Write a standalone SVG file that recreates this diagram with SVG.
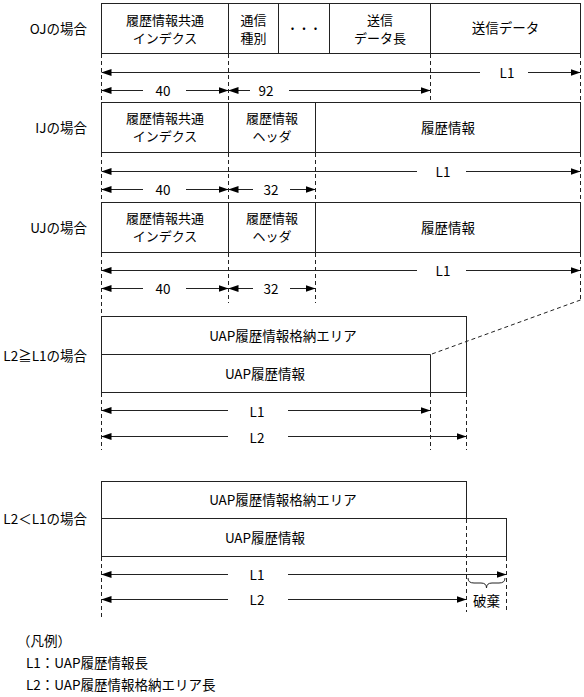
<svg xmlns="http://www.w3.org/2000/svg" width="584" height="697" viewBox="0 0 584 697">
<style>
text{font-family:"Noto Sans CJK JP","Noto Sans",sans-serif;font-size:13.5px;fill:#000;}
.c{text-anchor:middle;dominant-baseline:central;}
.r{text-anchor:end;dominant-baseline:central;}
.l{text-anchor:start;dominant-baseline:central;}
.t2{font-size:13px;}
.box{fill:#fff;stroke:#222;stroke-width:1;}
.ln{stroke:#222;stroke-width:1;fill:none;}
.d{stroke:#222;stroke-width:1;stroke-dasharray:4 3;fill:none;}
.a{stroke:#222;stroke-width:1;fill:none;}
</style>
<defs>
<marker id="ah" viewBox="0 0 10 7" refX="10" refY="3.5" markerWidth="10" markerHeight="7" markerUnits="userSpaceOnUse" orient="auto-start-reverse">
<path d="M0,0 L10,3.5 L0,7 Z" fill="#000"/>
</marker>
</defs>

<!-- left labels -->
<g id="labels">
<text class="r" x="87" y="28">OJの場合</text>
<text class="r" x="87" y="127">IJの場合</text>
<text class="r" x="87" y="227">UJの場合</text>
<text class="r" x="87" y="355">L2≧L1の場合</text>
<text class="r" x="87" y="518">L2＜L1の場合</text>
</g>

<!-- OJ -->
<g id="oj">
<rect class="box" x="101.5" y="3.5" width="479" height="50"/>
<line class="ln" x1="228.5" y1="3.5" x2="228.5" y2="53.5"/>
<line class="ln" x1="278.5" y1="3.5" x2="278.5" y2="53.5"/>
<line class="ln" x1="329.5" y1="3.5" x2="329.5" y2="53.5"/>
<line class="ln" x1="430.5" y1="3.5" x2="430.5" y2="53.5"/>
<text class="c t2" x="165" y="19.5">履歴情報共通</text>
<text class="c t2" x="165" y="37">インデクス</text>
<text class="c t2" x="253.5" y="19.5">通信</text>
<text class="c t2" x="253.5" y="37">種別</text>
<text class="c" x="304" y="28" style="font-size:11.5px">・・・</text>
<text class="c t2" x="380" y="19">送信</text>
<text class="c t2" x="380" y="37">データ長</text>
<text class="c" x="505.5" y="27">送信データ</text>
</g>

<!-- IJ -->
<g id="ij">
<rect class="box" x="101.5" y="102.5" width="479" height="50"/>
<line class="ln" x1="228.5" y1="102.5" x2="228.5" y2="152.5"/>
<line class="ln" x1="315.5" y1="102.5" x2="315.5" y2="152.5"/>
<text class="c t2" x="165" y="117.5">履歴情報共通</text>
<text class="c t2" x="165" y="135">インデクス</text>
<text class="c t2" x="272" y="117.5">履歴情報</text>
<text class="c t2" x="272" y="135">ヘッダ</text>
<text class="c" x="448" y="127">履歴情報</text>
</g>

<!-- UJ -->
<g id="uj">
<rect class="box" x="101.5" y="202.5" width="479" height="50"/>
<line class="ln" x1="228.5" y1="202.5" x2="228.5" y2="252.5"/>
<line class="ln" x1="315.5" y1="202.5" x2="315.5" y2="252.5"/>
<text class="c t2" x="165" y="217.5">履歴情報共通</text>
<text class="c t2" x="165" y="235">インデクス</text>
<text class="c t2" x="272" y="217.5">履歴情報</text>
<text class="c t2" x="272" y="235">ヘッダ</text>
<text class="c" x="448" y="227">履歴情報</text>
</g>

<!-- L2>=L1 -->
<g id="ge">
<rect class="box" x="101.5" y="316.5" width="365" height="76"/>
<path class="ln" d="M101.5,354.5 H430.5 V392.5"/>
<text class="c" x="283" y="335">UAP履歴情報格納エリア</text>
<text class="c" x="265" y="373">UAP履歴情報</text>
</g>

<!-- L2<L1 -->
<g id="lt">
<rect class="box" x="101.5" y="481.5" width="365" height="37"/>
<rect class="box" x="101.5" y="518.5" width="405" height="38"/>
<text class="c" x="283" y="499">UAP履歴情報格納エリア</text>
<text class="c" x="265" y="537">UAP履歴情報</text>
<path class="ln" d="M468,578 Q468,583 474,583 L481,583 Q486.5,583 486.5,588 Q486.5,583 492,583 L499,583 Q505,583 505,578"/>
<text class="c" x="486.5" y="600">破棄</text>
</g>

<!-- dimension labels -->
<g id="dimlabels">
<text class="c" x="507" y="72">L1</text>
<text class="c" x="163" y="90">40</text>
<text class="c" x="266" y="90">92</text>
<text class="c" x="443" y="171">L1</text>
<text class="c" x="163" y="189">40</text>
<text class="c" x="271" y="189">32</text>
<text class="c" x="443" y="270">L1</text>
<text class="c" x="163" y="288">40</text>
<text class="c" x="271" y="288">32</text>
<text class="c" x="257" y="411">L1</text>
<text class="c" x="257" y="437">L2</text>
<text class="c" x="257" y="574">L1</text>
<text class="c" x="257" y="599">L2</text>
</g>

<!-- connectors -->
<g id="connectors">
<line class="d" x1="101.5" y1="54" x2="101.5" y2="102"/>
<line class="d" x1="228.5" y1="54" x2="228.5" y2="102"/>
<line class="d" x1="430.5" y1="54" x2="430.5" y2="101"/>
<line class="d" x1="580.5" y1="54" x2="580.5" y2="102"/>
<line class="a" x1="101.5" y1="72.5" x2="480" y2="72.5" marker-start="url(#ah)"/>
<line class="a" x1="528" y1="72.5" x2="580.5" y2="72.5" marker-end="url(#ah)"/>
<line class="a" x1="101.5" y1="90.5" x2="143" y2="90.5" marker-start="url(#ah)"/>
<line class="a" x1="186" y1="90.5" x2="228.5" y2="90.5" marker-end="url(#ah)"/>
<line class="a" x1="228.5" y1="90.5" x2="250" y2="90.5" marker-start="url(#ah)"/>
<line class="a" x1="289" y1="90.5" x2="430.5" y2="90.5" marker-end="url(#ah)"/>
<line class="d" x1="101.5" y1="153" x2="101.5" y2="202"/>
<line class="d" x1="228.5" y1="153" x2="228.5" y2="202"/>
<line class="d" x1="315.5" y1="153" x2="315.5" y2="202"/>
<line class="d" x1="580.5" y1="153" x2="580.5" y2="202"/>
<line class="a" x1="101.5" y1="171.5" x2="417" y2="171.5" marker-start="url(#ah)"/>
<line class="a" x1="466" y1="171.5" x2="580.5" y2="171.5" marker-end="url(#ah)"/>
<line class="a" x1="101.5" y1="189.5" x2="143" y2="189.5" marker-start="url(#ah)"/>
<line class="a" x1="186" y1="189.5" x2="228.5" y2="189.5" marker-end="url(#ah)"/>
<line class="a" x1="228.5" y1="189.5" x2="253" y2="189.5" marker-start="url(#ah)"/>
<line class="a" x1="290" y1="189.5" x2="315.5" y2="189.5" marker-end="url(#ah)"/>
<line class="d" x1="101.5" y1="253" x2="101.5" y2="316"/>
<line class="d" x1="228.5" y1="253" x2="228.5" y2="303"/>
<line class="d" x1="315.5" y1="253" x2="315.5" y2="303"/>
<line class="d" x1="580.5" y1="253" x2="580.5" y2="300"/>
<line class="d" x1="580.5" y1="300" x2="430.5" y2="354.5"/>
<line class="a" x1="101.5" y1="270.5" x2="417" y2="270.5" marker-start="url(#ah)"/>
<line class="a" x1="466" y1="270.5" x2="580.5" y2="270.5" marker-end="url(#ah)"/>
<line class="a" x1="101.5" y1="288.5" x2="143" y2="288.5" marker-start="url(#ah)"/>
<line class="a" x1="186" y1="288.5" x2="228.5" y2="288.5" marker-end="url(#ah)"/>
<line class="a" x1="228.5" y1="288.5" x2="253" y2="288.5" marker-start="url(#ah)"/>
<line class="a" x1="290" y1="288.5" x2="315.5" y2="288.5" marker-end="url(#ah)"/>
<line class="d" x1="101.5" y1="393" x2="101.5" y2="450"/>
<line class="d" x1="430.5" y1="393" x2="430.5" y2="450"/>
<line class="d" x1="466.5" y1="393" x2="466.5" y2="450"/>
<line class="a" x1="101.5" y1="410.5" x2="228" y2="410.5" marker-start="url(#ah)"/>
<line class="a" x1="288" y1="410.5" x2="430.5" y2="410.5" marker-end="url(#ah)"/>
<line class="a" x1="101.5" y1="436.5" x2="228" y2="436.5" marker-start="url(#ah)"/>
<line class="a" x1="288" y1="436.5" x2="466.5" y2="436.5" marker-end="url(#ah)"/>
<line class="d" x1="101.5" y1="557" x2="101.5" y2="620"/>
<line class="d" x1="466.5" y1="519" x2="466.5" y2="612"/>
<line class="d" x1="506.5" y1="557" x2="506.5" y2="612"/>
<line class="a" x1="101.5" y1="574.5" x2="228" y2="574.5" marker-start="url(#ah)"/>
<line class="a" x1="288" y1="574.5" x2="506.5" y2="574.5" marker-end="url(#ah)"/>
<line class="a" x1="101.5" y1="599.5" x2="228" y2="599.5" marker-start="url(#ah)"/>
<line class="a" x1="288" y1="599.5" x2="466.5" y2="599.5" marker-end="url(#ah)"/>
</g>

<!-- legend -->
<g id="legend">
<text class="l" x="17" y="640">（凡例）</text>
<text class="l" x="26" y="662">L1：UAP履歴情報長</text>
<text class="l" x="26" y="684">L2：UAP履歴情報格納エリア長</text>
</g>
</svg>
